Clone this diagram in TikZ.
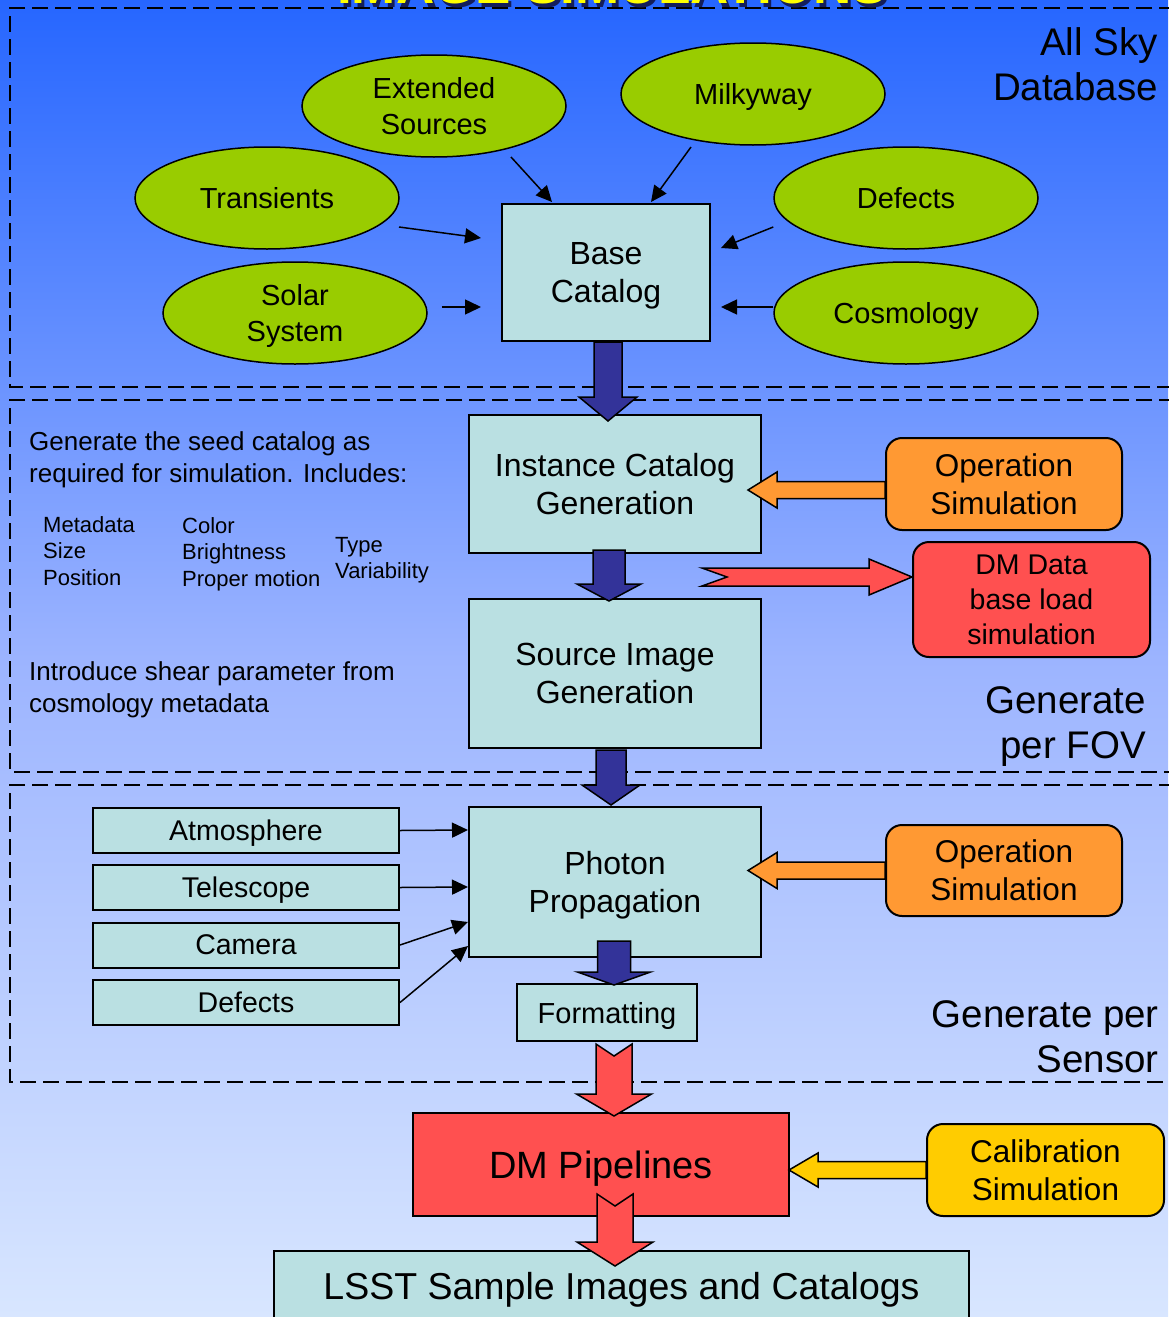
\documentclass[tikz,border=0pt]{standalone}
\usepackage{fontspec}
\setmainfont{Liberation Sans}
\usetikzlibrary{calc,shapes.geometric,arrows.meta}

\definecolor{bgtop}{RGB}{38,102,255}
\definecolor{bgmid}{RGB}{156,180,255}
\definecolor{bgbot}{RGB}{216,230,255}
\definecolor{boxcyan}{RGB}{186,224,226}
\definecolor{ellgreen}{RGB}{153,204,0}
\definecolor{dmred}{RGB}{255,80,80}
\definecolor{oporange}{RGB}{255,153,51}
\definecolor{calyellow}{RGB}{255,204,0}
\definecolor{arrblue}{RGB}{51,51,153}
\definecolor{titleyellow}{RGB}{255,255,0}
\definecolor{titleshadow}{RGB}{20,30,90}

% block arrow pointing down: style, tail, tip, half shaft, half head, head length, notch
\newcommand{\blockdown}[7]{%
\draw[#1] let \p1=(#2), \p2=(#3) in
 (\x1-#4,\y1) -- (\x1-#4,\y2+#6) -- (\x1-#5,\y2+#6) -- (\x1,\y2) -- (\x1+#5,\y2+#6)
 -- (\x1+#4,\y2+#6) -- (\x1+#4,\y1) -- (\x1,\y1-#7) -- cycle;}
% horizontal block arrow: style, tail, tip, half shaft, half head, head length (signed), notch (signed)
\newcommand{\blockh}[7]{%
\draw[#1] let \p1=(#2), \p2=(#3) in
 (\x1,\y1+#4) -- (\x2+#6,\y1+#4) -- (\x2+#6,\y1+#5) -- (\x2,\y1) -- (\x2+#6,\y1-#5)
 -- (\x2+#6,\y1-#4) -- (\x1,\y1-#4) -- (\x1+#7,\y1) -- cycle;}

\begin{document}
\begin{tikzpicture}[x=1pt,y=-1pt,
  region/.style={dash pattern=on 16pt off 7pt,line width=2pt},
  src/.style={ellipse,draw,line width=1.5pt,fill=ellgreen,minimum width=264pt,minimum height=102pt,inner sep=0pt,text depth=0pt,align=center,font=\fontsize{29}{36}\selectfont},
  stage/.style={rectangle,draw,line width=2pt,fill=boxcyan,inner sep=0pt,text depth=0pt,align=center,font=\fontsize{32}{38}\selectfont},
  optic/.style={rectangle,draw,line width=2pt,fill=boxcyan,minimum width=306pt,minimum height=45pt,inner sep=0pt,text depth=0pt,font=\fontsize{28.5}{34}\selectfont},
  sim/.style={rectangle,rounded corners=16pt,draw,line width=2pt,inner sep=0pt,text depth=0pt,align=center,minimum width=236pt,font=\fontsize{31.5}{38}\selectfont},
  note/.style={anchor=west,align=left,inner sep=0pt},
  label/.style={anchor=east,align=right,inner sep=0pt,font=\fontsize{38.5}{45}\selectfont},
  feed/.style={line width=1.5pt,-{Triangle[length=16pt,width=15pt]}},
  bluearr/.style={draw,line width=1.5pt,fill=arrblue},
  redarr/.style={draw,line width=1.5pt,fill=dmred},
  orangearr/.style={draw,line width=1.5pt,fill=oporange},
  yellowarr/.style={draw,line width=1.5pt,fill=calyellow}]

\useasboundingbox (0,0) rectangle (1168,1317);
\shade[top color=bgtop,bottom color=bgbot,middle color=bgmid] (0,0) rectangle (1168,1317);

% regions
\draw[region] (1175,8)--(10,8)--(10,387)--(1175,387);
\draw[region] (1175,400)--(10,400)--(10,772)--(1175,772);
\draw[region] (1175,785)--(10,785)--(10,1082)--(1175,1082);

% title, mostly above the page
\node[anchor=base,text=titleshadow,font=\fontsize{53}{60}\selectfont\bfseries] (titleshade) at (615,7) {IMAGE SIMULATIONS};
\node[anchor=base,text=titleyellow,font=\fontsize{53}{60}\selectfont\bfseries] (title) at (612,4) {IMAGE SIMULATIONS};

% all sky database
\node[src] (ext) at (434,106) {Extended\\Sources};
\node[src] (milky) at (753,94) {Milkyway};
\node[src] (trans) at (267,198) {Transients};
\node[src] (defectsA) at (906,198) {Defects};
\node[src] (solar) at (295,313) {Solar\\System};
\node[src] (cosmo) at (906,313) {Cosmology};
\node[stage,minimum width=208pt,minimum height=137pt] (base) at (606,272.5) {Base\\Catalog};
\node[label] (allsky) at (1158,64.5) {All Sky\\Database};

\draw[feed] ([shift={(77,51)}]ext.center) -- ([shift={(-54,-1)}]base.north);
\draw[feed] ([shift={(-62,53)}]milky.center) -- ([shift={(45,-1)}]base.north);
\draw[feed] ([shift={(132,29)}]trans.center) -- ([shift={(-20,-34.5)}]base.west);
\draw[feed] ([shift={(14,-6)}]solar.east) -- ([shift={(-20,34.5)}]base.west);
\draw[feed] ([shift={(0,29)}]defectsA.west) -- ([shift={(10,-24.5)}]base.east);
\draw[feed] ([shift={(0,-6)}]cosmo.west) -- ([shift={(10,34.5)}]base.east);

% per FOV
\node[stage,minimum width=292pt,minimum height=138pt] (inst) at (615,484) {Instance Catalog\\Generation};
\node[stage,minimum width=292pt,minimum height=149pt] (srcimg) at (615,673.5) {Source Image\\Generation};
\node[sim,fill=oporange,minimum height=92pt] (opA) at (1004,484) {Operation\\Simulation};
\node[sim,fill=dmred,minimum width=237pt,minimum height=115pt,font=\fontsize{28.5}{35}\selectfont] (dmdata) at (1031.5,599.5) {DM Data\\base load\\simulation};
\coordinate (dbfeed) at (702,577);
\node[label] (fov) at (1146,727) {Generate\\per FOV};

\node[note,font=\fontsize{26}{32}\selectfont] (seed) at (29,460) {Generate the seed catalog as\\required for simulation. Includes:};
\node[note,font=\fontsize{22}{26.5}\selectfont] (listA) at (43,551) {Metadata\\Size\\Position};
\node[note,font=\fontsize{22}{26.5}\selectfont] (listB) at (182,554) {Color\\Brightness\\Proper motion};
\node[note,font=\fontsize{22}{26.5}\selectfont] (listC) at (335,560) {Type\\Variability};
\node[note,font=\fontsize{26}{32}\selectfont] (shear) at (29,690) {Introduce shear parameter from\\cosmology metadata};

% per sensor
\node[stage,minimum width=292pt,minimum height=150pt] (photon) at (615,882) {Photon\\Propagation};
\node[stage,minimum width=180pt,minimum height=57pt,font=\fontsize{29}{34}\selectfont] (format) at (607,1012.5) {Formatting};
\node[sim,fill=oporange,minimum height=91pt] (opB) at (1004,870.5) {Operation\\Simulation};
\node[optic] (atmos) at (246,830.5) {Atmosphere};
\node[optic] (tele) at (246,887.5) {Telescope};
\node[optic] (camera) at (246,945) {Camera};
\node[optic] (defectsB) at (246,1002.5) {Defects};
\node[label] (sensor) at (1159,1037) {Generate per\\Sensor};

\draw[feed] (atmos.east) -- ([shift={(0,-52)}]photon.west);
\draw[feed] (tele.east) -- ([shift={(0,5)}]photon.west);
\draw[feed] (camera.east) -- ([shift={(0,40)}]photon.west);
\draw[feed] (defectsB.east) -- ([shift={(0,64)}]photon.west);

% pipeline and output
\node[stage,fill=dmred,minimum width=376pt,minimum height=103pt,font=\fontsize{38}{44}\selectfont] (pipe) at (601,1164.5) {DM Pipelines};
\node[sim,fill=calyellow,minimum width=237pt,minimum height=92pt] (calib) at (1045.5,1170) {Calibration\\Simulation};
\node[stage,text depth=,minimum width=695pt,minimum height=78pt,font=\fontsize{37.5}{44}\selectfont] (lsst) at (621.5,1290) {LSST Sample Images and Catalogs};

% block arrows
\blockdown{bluearr}{[shift={(2,0)}]base.south}{[shift={(0,7)}]inst.north}{14pt}{29pt}{24pt}{0pt}
\blockdown{bluearr}{[shift={(-6,-4)}]inst.south}{[shift={(0,3)}]srcimg.north}{16pt}{32pt}{17pt}{0pt}
\blockdown{bluearr}{[shift={(-4,1)}]srcimg.south}{[shift={(0,-1)}]photon.north}{15pt}{29pt}{20pt}{0pt}
\blockdown{bluearr}{[shift={(-1,-17)}]photon.south}{[shift={(0,2)}]format.north}{16.5pt}{36.5pt}{13pt}{0pt}
\blockdown{redarr}{[shift={(7,2)}]format.south}{[shift={(0,4)}]pipe.north}{18pt}{37.5pt}{22pt}{12pt}
\blockdown{redarr}{[shift={(14,-23)}]pipe.south}{[shift={(0,16)}]lsst.north}{18pt}{38pt}{24pt}{12pt}

\blockh{orangearr}{[shift={(0,6)}]opA.west}{[shift={(-14,0)}]inst.east}{8.5pt}{18pt}{29pt}{0pt}
\blockh{orangearr}{opB.west}{[shift={(-14,0)}]photon.east}{8.5pt}{18pt}{29pt}{0pt}
\blockh{yellowarr}{calib.west}{[shift={(-1,0)}]pipe.east}{8.5pt}{17pt}{29pt}{0pt}
\blockh{redarr}{dbfeed}{dmdata.west}{9pt}{18pt}{-43pt}{25pt}
\end{tikzpicture}
\end{document}
